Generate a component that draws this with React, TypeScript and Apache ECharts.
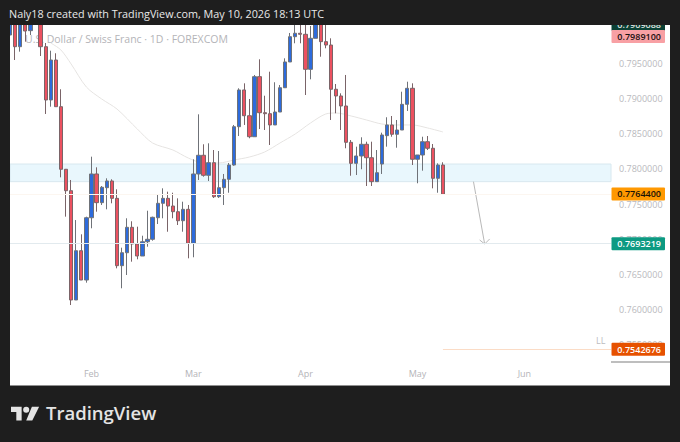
import React, { useEffect, useRef } from "react";
import * as echarts from "echarts";

// Daily candles, USD/CHF.
const opens = [
  0.79914, 0.80157, 0.79747, 0.801, 0.79976, 0.80271, 0.80157, 0.79747, 0.78986, 0.79557,
  0.7889, 0.77996, 0.7769, 0.76129, 0.76833, 0.76414, 0.77304, 0.77929, 0.77519, 0.77733,
  0.77829, 0.77581, 0.76619, 0.76804, 0.77167, 0.76929, 0.76757, 0.76961, 0.76996, 0.77304,
  0.7751, 0.77581, 0.77471, 0.7739, 0.77261, 0.77424, 0.76939, 0.77929, 0.78196, 0.7791,
  0.7809, 0.77604, 0.77733, 0.77853, 0.78057, 0.78604, 0.79129, 0.78761, 0.78461, 0.79319,
  0.78804, 0.7879, 0.78629, 0.78814, 0.79161, 0.79529, 0.7989, 0.79939, 0.79924, 0.79424,
  0.79867, 0.80157, 0.79819, 0.79771, 0.79139, 0.79043, 0.789, 0.78381, 0.78081, 0.78186,
  0.78353, 0.78161, 0.77819, 0.78071, 0.78476, 0.78629, 0.78496, 0.78557, 0.78924, 0.79153,
  0.78139, 0.782, 0.7839, 0.78296, 0.77867, 0.78057,
];
const closes = [
  0.80157, 0.79747, 0.80129, 0.79971, 0.80157, 0.80157, 0.79747, 0.78986, 0.79557, 0.7889,
  0.77996, 0.7769, 0.76129, 0.76833, 0.76414, 0.77304, 0.77929, 0.77519, 0.77739, 0.77829,
  0.77581, 0.76619, 0.76804, 0.77167, 0.76929, 0.76757, 0.76961, 0.76996, 0.7731, 0.7751,
  0.77581, 0.77471, 0.7739, 0.77261, 0.77424, 0.76939, 0.77929, 0.78196, 0.7791, 0.7809,
  0.77604, 0.77733, 0.77853, 0.78057, 0.78604, 0.79129, 0.78761, 0.78461, 0.79319, 0.78804,
  0.7879, 0.78629, 0.78814, 0.79161, 0.79529, 0.7989, 0.79939, 0.79924, 0.79424, 0.79867,
  0.80157, 0.79819, 0.79771, 0.79139, 0.79043, 0.789, 0.78381, 0.78081, 0.78186, 0.78353,
  0.78161, 0.77819, 0.77947, 0.78486, 0.78629, 0.78496, 0.78557, 0.78924, 0.79153, 0.78139,
  0.782, 0.7839, 0.78296, 0.77867, 0.78057, 0.7764,
];
const lows = [
  0.79843, 0.79557, 0.79676, 0.79819, 0.79914, 0.8013, 0.79614, 0.78786, 0.7889, 0.7889,
  0.77881, 0.77319, 0.76057, 0.76129, 0.76414, 0.76376, 0.77153, 0.7739, 0.77486, 0.77424,
  0.7751, 0.76581, 0.76296, 0.76486, 0.76676, 0.7671, 0.76757, 0.7689, 0.76976, 0.77214,
  0.77296, 0.77104, 0.77296, 0.772, 0.77104, 0.76724, 0.76739, 0.77843, 0.7789, 0.77829,
  0.77586, 0.77586, 0.77486, 0.77661, 0.78047, 0.78471, 0.78629, 0.78439, 0.78461, 0.78571,
  0.78557, 0.78343, 0.78629, 0.78814, 0.79157, 0.79529, 0.79796, 0.79796, 0.79057, 0.79281,
  0.79867, 0.79604, 0.79724, 0.787, 0.78796, 0.78557, 0.78296, 0.77904, 0.77914, 0.77996,
  0.77757, 0.77757, 0.77819, 0.77929, 0.78319, 0.78461, 0.78304, 0.78557, 0.78829, 0.78057,
  0.77796, 0.77976, 0.78271, 0.77724, 0.77661, 0.77629,
];
const highs = [
  0.80243, 0.80271, 0.80243, 0.802, 0.80243, 0.80343, 0.80271, 0.798, 0.7969, 0.79653,
  0.79139, 0.78, 0.77843, 0.77271, 0.77067, 0.77319, 0.78176, 0.78024, 0.77757, 0.77867,
  0.77853, 0.7771, 0.76876, 0.77296, 0.77253, 0.77176, 0.77047, 0.77404, 0.77319, 0.77629,
  0.77724, 0.77676, 0.77661, 0.77581, 0.77533, 0.77486, 0.78139, 0.78781, 0.78353, 0.78367,
  0.78271, 0.78257, 0.77929, 0.78086, 0.78629, 0.79153, 0.79224, 0.79, 0.79343, 0.79567,
  0.79047, 0.7939, 0.79239, 0.792, 0.79581, 0.79943, 0.80129, 0.80129, 0.80129, 0.80043,
  0.80243, 0.80243, 0.80129, 0.79867, 0.79214, 0.79081, 0.79343, 0.78414, 0.78319, 0.78453,
  0.7839, 0.7839, 0.78271, 0.78519, 0.78739, 0.78757, 0.787, 0.79104, 0.79247, 0.79224,
  0.782, 0.78461, 0.78471, 0.78357, 0.78081, 0.78096,
];

// Faint moving average: [bar index, price], read at a sparse set of bars.
const averagePoints: [number, number][] = [
  [8, 0.798], [10, 0.797], [12, 0.795], [15, 0.79171], [18, 0.79], [21, 0.78857], [25, 0.78571],
  [28, 0.78371], [32, 0.78271], [35, 0.78157], [38, 0.78086], [41, 0.78086], [44, 0.78129],
  [47, 0.78171], [50, 0.78243], [53, 0.78371], [56, 0.785], [59, 0.78657], [62, 0.78786],
  [64, 0.788], [67, 0.78757], [70, 0.787], [73, 0.78643], [76, 0.78629], [79, 0.78629],
  [82, 0.78586], [85, 0.78529],
];

const barSlots = 119;
const monthLabels: Record<number, string> = { 16: "Feb", 36: "Mar", 58: "Apr", 80: "May", 101: "Jun" };
const categories = Array.from({ length: barSlots }, (_, i) => monthLabels[i] ?? "");
const priceTicks = [0.795, 0.79, 0.785, 0.78, 0.775, 0.77, 0.765, 0.76, 0.755];

const zoneTop = 0.78071;
const zoneBottom = 0.77819;
const targetPrice = 0.7693219;
const lastPrice = 0.77644;
const lowPrice = 0.7542676;
const arrowStart: [number, number] = [91, 0.77819];
const arrowEnd: [number, number] = [93, 0.76929];

const tagPrices = [0.80064, 0.7989100, 0.77644, 0.7693219, 0.7542676];
const tagTexts = ["0.7909088", "0.7989100", "0.7764400", "0.7693219", "0.7542676"];
const tagFills = ["#0b4034", "#f8a0a4", "#ff9800", "#0d9a82", "#e65100"];
const tagInks = ["#e6e6e6", "#1a1010", "#1a1206", "#ffffff", "#ffffff"];

const UI_FONT = "'Open Sans', 'Noto Sans', sans-serif";
const LOGO =
  "M14 25H7V14H0V7h14v18zM28 25h-8l7.5-18H37l-9 18zM24 11a4 4 0 1 1-8 0 4 4 0 0 1 8 0z";

export default function App() {
  const ref = useRef<HTMLDivElement>(null);
  useEffect(() => {
    document.body.style.margin = "0";
    echarts.graphic.registerShape("tvlogo", echarts.graphic.extendPath(LOGO, {}));
    const chart = echarts.init(ref.current!, null, { renderer: "svg" });
    const candleData = opens.map((o, i) => [o, closes[i], lows[i], highs[i]]);
    chart.setOption({
      animation: false,
      backgroundColor: "#1e1e1e",
      grid: { left: 10, right: 69, top: 25, bottom: 80 },
      xAxis: {
        type: "category",
        data: categories,
        boundaryGap: false,
        z: 5,
        axisLine: { show: false },
        axisTick: { show: false },
        splitLine: { show: false },
        axisLabel: {
          interval: 0,
          hideOverlap: false,
          color: "#b4b4b8",
          fontSize: 9,
          fontFamily: UI_FONT,
          margin: 7,
        },
      },
      yAxis: {
        type: "value",
        position: "right",
        min: 0.75243,
        max: 0.80057,
        z: 5,
        axisLine: { show: false },
        axisTick: { show: false },
        splitLine: { show: false },
        axisLabel: {
          customValues: priceTicks,
          formatter: (v: number) => v.toFixed(7),
          color: "#b9b9bd",
          fontSize: 9,
          fontFamily: UI_FONT,
          margin: 8,
        },
      },
      series: [
        {
          type: "line",
          name: "levels",
          z: 1,
          data: [],
          silent: true,
          markArea: {
            silent: true,
            itemStyle: { color: "#e9f7fd", borderColor: "#d8e8ef", borderWidth: 1, opacity: 1 },
            data: [[{ coord: [0, zoneTop] }, { coord: [barSlots - 1, zoneBottom] }]],
          },
          markLine: {
            silent: true,
            symbol: "none",
            label: { show: false },
            data: [
              [
                { coord: [0, targetPrice], lineStyle: { color: "#e2eaee", width: 1, type: "solid", opacity: 1 } },
                { coord: [barSlots - 1, targetPrice] },
              ],
              [
                { coord: [0, lastPrice], lineStyle: { color: "#fcf6f0", width: 1, type: "solid", opacity: 1 } },
                { coord: [barSlots - 1, lastPrice] },
              ],
              [
                { coord: [85, lowPrice], lineStyle: { color: "#fbdcc6", width: 1, type: "solid", opacity: 1 } },
                { coord: [barSlots - 1, lowPrice] },
              ],
            ],
          },
        },
        {
          type: "line",
          name: "average",
          z: 1,
          data: averagePoints,
          showSymbol: false,
          smooth: 0.3,
          lineStyle: { color: "#e6e4e2", width: 1 },
        },
        {
          type: "candlestick",
          z: 3,
          data: candleData,
          barWidth: 3.8,
          itemStyle: {
            color: "#2d6bdc",
            color0: "#ec5160",
            borderColor: "#6f7278",
            borderColor0: "#7a6468",
            borderWidth: 1,
          },
        },
        {
          type: "custom",
          name: "arrow",
          z: 4,
          clip: false,
          data: [[arrowStart[0], arrowStart[1], arrowEnd[0], arrowEnd[1]]],
          encode: { x: [0, 2], y: [1, 3] },
          renderItem: (_p: any, api: any) => {
            const a = api.coord([api.value(0), api.value(1)]);
            const b = api.coord([api.value(2), api.value(3)]);
            const st = { stroke: "#b9b9b9", lineWidth: 1, fill: "none" };
            return {
              type: "group",
              children: [
                { type: "line", shape: { x1: a[0], y1: a[1], x2: b[0] + 1, y2: b[1] }, style: st },
                {
                  type: "polyline",
                  shape: { points: [[b[0] - 4, b[1] - 4], [b[0] + 1, b[1]], [b[0] + 6, b[1] - 5]] },
                  style: st,
                },
              ],
            };
          },
        },
        {
          type: "custom",
          name: "price tags",
          z: 6,
          clip: false,
          data: tagPrices.map((p) => [0, p]),
          encode: { x: 0, y: 1 },
          renderItem: (p: any, api: any) => {
            const y = api.coord([0, api.value(1)])[1];
            const i = p.dataIndex;
            return {
              type: "group",
              children: [
                {
                  type: "rect",
                  shape: { x: 611.5, y: y - 6.5, width: 53.5, height: 13, r: 1 },
                  style: { fill: tagFills[i] },
                },
                {
                  type: "text",
                  style: {
                    x: 661,
                    y,
                    text: tagTexts[i],
                    fill: tagInks[i],
                    font: `600 9px ${UI_FONT}`,
                    textAlign: "right",
                    textVerticalAlign: "middle",
                  },
                },
              ],
            };
          },
        },
      ],
      graphic: [
        { type: "rect", z: 0, silent: true, shape: { x: 10, y: 25, width: 660, height: 360.5 }, style: { fill: "#ffffff" } },
        {
          type: "text", z: 1, x: 25, y: 33,
          style: { text: "U.S. Dollar / Swiss Franc · 1D · FOREXCOM", fill: "#b4b4b8", font: `10.5px ${UI_FONT}` },
        },
        {
          type: "text", z: 1, x: 596, y: 336,
          style: { text: "LL", fill: "#bcbcc0", font: `9px ${UI_FONT}` },
        },
        { type: "line", z: 2, shape: { x1: 611, y1: 362, x2: 670, y2: 362 }, style: { stroke: "#a9a9a9", lineWidth: 1.5 } },
        { type: "rect", z: 50, silent: true, shape: { x: 0, y: 0, width: 680, height: 25 }, style: { fill: "#1e1e1e" } },
        { type: "rect", z: 50, silent: true, shape: { x: 0, y: 0, width: 10, height: 442 }, style: { fill: "#1e1e1e" } },
        {
          type: "text", z: 51, x: 9, y: 7.5,
          style: { text: "Naly18 created with TradingView.com, May 10, 2026 18:13 UTC", fill: "#e8e8e8", font: `10.8px ${UI_FONT}` },
        },
        {
          type: "tvlogo", z: 51, x: 11, y: 401.4, scaleX: 0.76, scaleY: 0.76,
          style: { fill: "#e4e4e4" },
        },
        {
          type: "text", z: 51, x: 46, y: 403,
          style: { text: "TradingView", fill: "#e4e4e4", font: `600 18.5px ${UI_FONT}` },
        },
      ],
    });
    return () => chart.dispose();
  }, []);
  return <div ref={ref} style={{ width: 680, height: 442 }} />;
}
